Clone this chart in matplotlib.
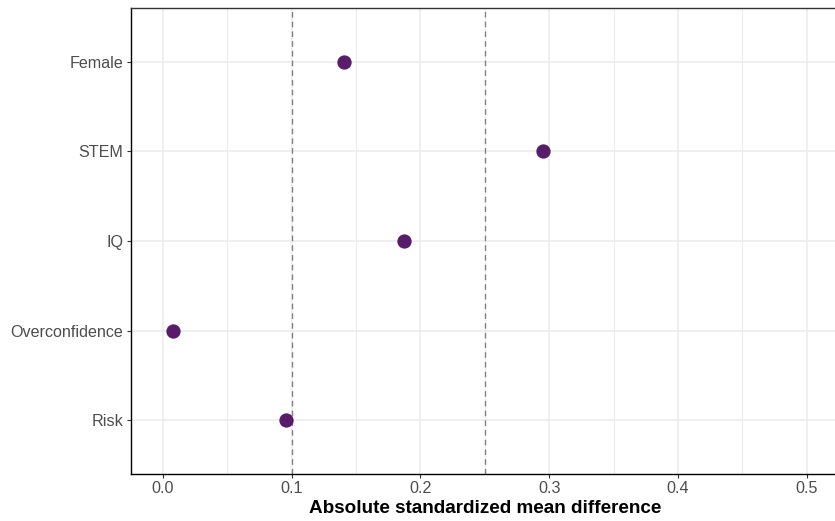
import matplotlib
matplotlib.use("Agg")
import matplotlib.pyplot as plt
from matplotlib.ticker import MultipleLocator

plt.rcParams['font.family'] = ['Liberation Sans', 'DejaVu Sans']

# Covariate balance: absolute standardized mean differences
covariates = ["Female", "STEM", "IQ", "Overconfidence", "Risk"]
abs_smd = [0.141, 0.295, 0.187, 0.008, 0.096]
thresholds = [0.1, 0.25]
x_ticks = [0.0, 0.1, 0.2, 0.3, 0.4, 0.5]
x_tick_labels = ["0.0", "0.1", "0.2", "0.3", "0.4", "0.5"]

point_color = "#581C6B"

fig = plt.figure(figsize=(8.35, 5.21), dpi=100)
ax = fig.add_axes([130.5 / 835, 47 / 521, (839 - 130.5) / 835, (474 - 8) / 521])

n = len(covariates)
ypos = [n - 1 - i for i in range(n)]  # first category at the top

ax.set_xlim(-0.025, 0.525)
ax.set_ylim(-0.6, n - 1 + 0.6)

# grid
ax.xaxis.set_minor_locator(MultipleLocator(0.05))
ax.set_xticks(x_ticks)
ax.set_xticklabels(x_tick_labels)
ax.set_yticks(ypos)
ax.set_yticklabels(covariates)
ax.grid(True, which="major", color="#EBEBEB", linewidth=1.1, zorder=0)
ax.grid(True, which="minor", axis="x", color="#EBEBEB", linewidth=0.7, zorder=0)
ax.set_axisbelow(True)

for t in thresholds:
    ax.axvline(t, color="#808080", linestyle=(0, (4, 3)), linewidth=1.0, zorder=1)

ax.plot(abs_smd, ypos, linestyle="none", marker="o", markersize=10.3,
        color=point_color, markeredgewidth=0, zorder=3)

for side in ["left", "bottom", "top", "right"]:
    ax.spines[side].set_color("#333333")
    ax.spines[side].set_linewidth(1.0)
ax.spines["left"].set_color("black")
ax.spines["bottom"].set_color("black")

ax.tick_params(axis="both", which="major", length=2.9, width=0.8, color="#333333",
               labelsize=11.6, labelcolor="#4D4D4D", pad=2.4)
ax.tick_params(axis="both", which="minor", length=0)

ax.set_xlabel("Absolute standardized mean difference", fontsize=13.6,
              fontweight="bold", color="black", labelpad=2.5)
ax.set_ylabel("")

fig.savefig("out.png", dpi=100)
